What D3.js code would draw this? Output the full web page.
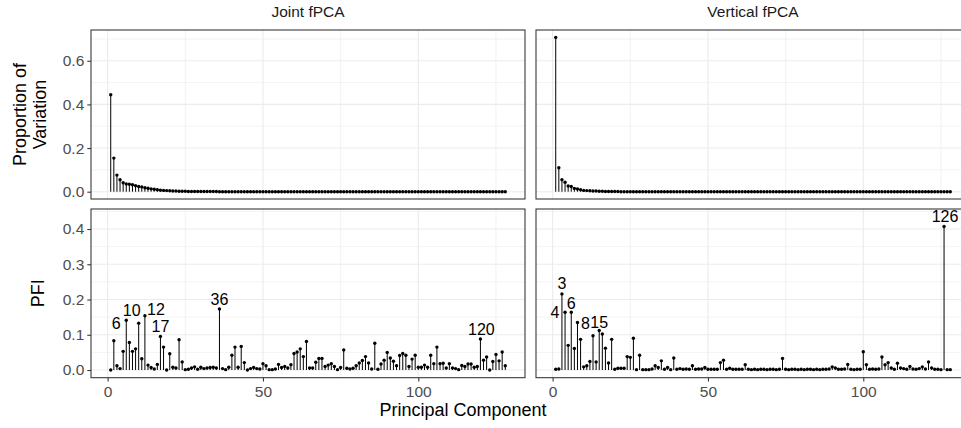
<!DOCTYPE html>
<html lang="en">
<head>
<meta charset="UTF-8">
<title>Joint vs Vertical fPCA</title>
<script src="https://d3js.org/d3.v7.min.js"></script>
<style>
  body { margin: 0; background: #fff; }
  svg { display: block; font-family: "Liberation Sans", Arial, sans-serif; }
</style>
</head>
<body>
<div id="chart"></div>
<script>
// principal component index, 1..128
const components = d3.range(1, 129);
const methods = ["Joint fPCA", "Vertical fPCA"];
const rowTitles = [["Proportion of", "Variation"], ["PFI"]];

const jointPropVar = [
  0.444, 0.154, 0.076, 0.055, 0.041, 0.035, 0.034, 0.032, 0.027, 0.024,
  0.022, 0.018, 0.016, 0.013, 0.011, 0.009, 0.007, 0.006, 0.005, 0.004,
  0.003, 0.003, 0.002, 0.002, 0.002, 0.001, 0.001, 0.001, 0.001, 0.001,
  0.001, 0.001, 0.001, 0.001, 0.001, 0.000, 0.000, 0.000, 0.000, 0.000,
  0.000, 0.000, 0.000, 0.000, 0.000, 0.000, 0.000, 0.000, 0.000, 0.000,
  0.000, 0.000, 0.000, 0.000, 0.000, 0.000, 0.000, 0.000, 0.000, 0.000,
  0.000, 0.000, 0.000, 0.000, 0.000, 0.000, 0.000, 0.000, 0.000, 0.000,
  0.000, 0.000, 0.000, 0.000, 0.000, 0.000, 0.000, 0.000, 0.000, 0.000,
  0.000, 0.000, 0.000, 0.000, 0.000, 0.000, 0.000, 0.000, 0.000, 0.000,
  0.000, 0.000, 0.000, 0.000, 0.000, 0.000, 0.000, 0.000, 0.000, 0.000,
  0.000, 0.000, 0.000, 0.000, 0.000, 0.000, 0.000, 0.000, 0.000, 0.000,
  0.000, 0.000, 0.000, 0.000, 0.000, 0.000, 0.000, 0.000, 0.000, 0.000,
  0.000, 0.000, 0.000, 0.000, 0.000, 0.000, 0.000, 0.000
];

const verticalPropVar = [
  0.707, 0.110, 0.055, 0.043, 0.026, 0.024, 0.015, 0.012, 0.009, 0.006,
  0.005, 0.004, 0.003, 0.003, 0.002, 0.002, 0.001, 0.001, 0.001, 0.001,
  0.001, 0.000, 0.000, 0.000, 0.000, 0.000, 0.000, 0.000, 0.000, 0.000,
  0.000, 0.000, 0.000, 0.000, 0.000, 0.000, 0.000, 0.000, 0.000, 0.000,
  0.000, 0.000, 0.000, 0.000, 0.000, 0.000, 0.000, 0.000, 0.000, 0.000,
  0.000, 0.000, 0.000, 0.000, 0.000, 0.000, 0.000, 0.000, 0.000, 0.000,
  0.000, 0.000, 0.000, 0.000, 0.000, 0.000, 0.000, 0.000, 0.000, 0.000,
  0.000, 0.000, 0.000, 0.000, 0.000, 0.000, 0.000, 0.000, 0.000, 0.000,
  0.000, 0.000, 0.000, 0.000, 0.000, 0.000, 0.000, 0.000, 0.000, 0.000,
  0.000, 0.000, 0.000, 0.000, 0.000, 0.000, 0.000, 0.000, 0.000, 0.000,
  0.000, 0.000, 0.000, 0.000, 0.000, 0.000, 0.000, 0.000, 0.000, 0.000,
  0.000, 0.000, 0.000, 0.000, 0.000, 0.000, 0.000, 0.000, 0.000, 0.000,
  0.000, 0.000, 0.000, 0.000, 0.000, 0.000, 0.000, 0.000
];

const jointPFI = [
  0.000, 0.083, 0.012, 0.004, 0.053, 0.141, 0.078, 0.053, 0.060, 0.133,
  0.032, 0.154, 0.014, 0.007, 0.003, 0.016, 0.095, 0.065, 0.000, 0.046,
  0.008, 0.006, 0.086, 0.023, 0.001, 0.002, 0.006, 0.009, 0.002, 0.008,
  0.004, 0.006, 0.007, 0.008, 0.006, 0.173, 0.004, 0.001, 0.008, 0.042,
  0.065, 0.008, 0.067, 0.021, 0.000, 0.004, 0.007, 0.004, 0.003, 0.018,
  0.012, 0.001, 0.001, 0.003, 0.016, 0.007, 0.010, 0.006, 0.015, 0.047,
  0.051, 0.060, 0.038, 0.081, 0.006, 0.006, 0.022, 0.033, 0.033, 0.010,
  0.014, 0.018, 0.010, 0.001, 0.007, 0.057, 0.005, 0.003, 0.005, 0.012,
  0.020, 0.027, 0.038, 0.020, 0.003, 0.076, 0.002, 0.017, 0.028, 0.050,
  0.034, 0.025, 0.012, 0.041, 0.047, 0.042, 0.010, 0.031, 0.042, 0.008,
  0.008, 0.014, 0.008, 0.042, 0.018, 0.065, 0.018, 0.019, 0.006, 0.018,
  0.006, 0.004, 0.001, 0.013, 0.010, 0.017, 0.017, 0.008, 0.010, 0.088,
  0.028, 0.037, 0.000, 0.024, 0.044, 0.026, 0.051, 0.012
];

const verticalPFI = [
  0.002, 0.003, 0.216, 0.164, 0.070, 0.164, 0.061, 0.135, 0.087, 0.009,
  0.012, 0.024, 0.097, 0.023, 0.112, 0.102, 0.062, 0.020, 0.087, 0.002,
  0.005, 0.005, 0.005, 0.038, 0.036, 0.090, 0.001, 0.042, 0.001, 0.001,
  0.001, 0.003, 0.012, 0.007, 0.026, 0.002, 0.007, 0.001, 0.034, 0.002,
  0.004, 0.002, 0.003, 0.002, 0.012, 0.002, 0.003, 0.003, 0.007, 0.002,
  0.002, 0.002, 0.002, 0.021, 0.028, 0.002, 0.005, 0.002, 0.002, 0.002,
  0.002, 0.015, 0.002, 0.001, 0.002, 0.001, 0.002, 0.002, 0.001, 0.002,
  0.002, 0.001, 0.002, 0.033, 0.002, 0.001, 0.002, 0.002, 0.001, 0.002,
  0.001, 0.002, 0.002, 0.001, 0.002, 0.001, 0.002, 0.002, 0.003, 0.009,
  0.006, 0.002, 0.002, 0.003, 0.016, 0.002, 0.001, 0.002, 0.002, 0.052,
  0.015, 0.002, 0.003, 0.002, 0.003, 0.037, 0.015, 0.021, 0.006, 0.002,
  0.019, 0.006, 0.004, 0.002, 0.010, 0.003, 0.002, 0.004, 0.009, 0.003,
  0.023, 0.006, 0.002, 0.002, 0.001, 0.407, 0.001, 0.001
];

const jointLabelled = [6, 10, 12, 17, 36, 120];
const verticalLabelled = [3, 4, 6, 8, 15, 126];

const xTicks = [0, 50, 100];
const xMinor = [25, 75, 125];
const propTicks = [0, 0.2, 0.4, 0.6];
const propMinor = [0.1, 0.3, 0.5, 0.7];
const pfiTicks = [0, 0.1, 0.2, 0.3, 0.4];
const pfiMinor = [0.05, 0.15, 0.25, 0.35, 0.45];

// label placement relative to the point (px), like a repel layout
const labelNudge = {
  "Joint fPCA": {6: [-10, 3], 10: [-7, -13], 12: [11, -6], 17: [0, -10], 36: [0, -10], 120: [1, -9]},
  "Vertical fPCA": {3: [0, -10], 4: [-10, 0], 6: [0, -9], 8: [8, 1], 15: [0, -8], 126: [1, -10]}
};

const W = 961, H = 428;
const colX = [[91, 525], [536, 970]];
const rowY = [[30, 199], [209, 377.7]];
const xDomain = [-5.35, 134.35];
const tickFont = 15.5;
const rows = [
  {domain: [-0.0335, 0.741], ticks: propTicks, minor: propMinor},
  {domain: [-0.0218, 0.4568], ticks: pfiTicks, minor: pfiMinor}
];
const panelData = [
  [jointPropVar, verticalPropVar],
  [jointPFI, verticalPFI]
];
const labelled = [[[], []], [jointLabelled, verticalLabelled]];

const svg = d3.select("#chart").append("svg")
  .attr("width", W)
  .attr("height", H);

const xScales = colX.map(r => d3.scaleLinear().domain(xDomain).range(r));
const yScales = rows.map((r, i) => d3.scaleLinear().domain(r.domain).range([rowY[i][1], rowY[i][0]]));

rows.forEach((row, ri) => {
  methods.forEach((method, ci) => {
    const x = xScales[ci], y = yScales[ri];
    const g = svg.append("g");
    const [x0, x1] = colX[ci], [y0, y1] = rowY[ri];

    g.append("rect").attr("x", x0).attr("y", y0)
      .attr("width", x1 - x0).attr("height", y1 - y0).attr("fill", "#fff");

    // grid
    g.selectAll(".vminor").data(xMinor).join("line")
      .attr("x1", d => x(d)).attr("x2", d => x(d)).attr("y1", y0).attr("y2", y1)
      .attr("stroke", "#EBEBEB").attr("stroke-width", 0.6);
    g.selectAll(".hminor").data(row.minor).join("line")
      .attr("x1", x0).attr("x2", x1).attr("y1", d => y(d)).attr("y2", d => y(d))
      .attr("stroke", "#EBEBEB").attr("stroke-width", 0.6);
    g.selectAll(".vmajor").data(xTicks).join("line")
      .attr("x1", d => x(d)).attr("x2", d => x(d)).attr("y1", y0).attr("y2", y1)
      .attr("stroke", "#EBEBEB").attr("stroke-width", 1.1);
    g.selectAll(".hmajor").data(row.ticks).join("line")
      .attr("x1", x0).attr("x2", x1).attr("y1", d => y(d)).attr("y2", d => y(d))
      .attr("stroke", "#EBEBEB").attr("stroke-width", 1.1);

    const pts = panelData[ri][ci].map((v, i) => ({k: components[i], v}));

    g.append("g").selectAll("line").data(pts).join("line")
      .attr("x1", d => x(d.k)).attr("x2", d => x(d.k))
      .attr("y1", y(0)).attr("y2", d => y(d.v))
      .attr("stroke", "#000").attr("stroke-width", 1);

    g.append("g").selectAll("circle").data(pts).join("circle")
      .attr("cx", d => x(d.k)).attr("cy", d => y(d.v)).attr("r", 1.7)
      .attr("fill", "#000");

    const labs = pts.filter(d => labelled[ri][ci].includes(d.k));
    g.append("g").selectAll("text").data(labs).join("text")
      .attr("x", d => x(d.k) + labelNudge[method][d.k][0])
      .attr("y", d => y(d.v) + labelNudge[method][d.k][1])
      .attr("text-anchor", "middle")
      .attr("dominant-baseline", "central")
      .attr("font-size", 16)
      .attr("fill", "#000")
      .text(d => d.k);

    g.append("rect").attr("x", x0).attr("y", y0)
      .attr("width", x1 - x0).attr("height", y1 - y0)
      .attr("fill", "none").attr("stroke", "#333").attr("stroke-width", 1.07);

    // y axis on the left column
    if (ci === 0) {
      const ax = svg.append("g")
        .attr("transform", `translate(${x0},0)`)
        .call(d3.axisLeft(y).tickValues(row.ticks).tickSize(3.7).tickPadding(3).tickFormat(d3.format(".1f")));
      ax.select(".domain").remove();
      ax.selectAll("line").attr("stroke", "#333").attr("stroke-width", 1.07);
      ax.selectAll("text").attr("fill", "#4D4D4D").attr("font-size", tickFont)
        .attr("font-family", "Liberation Sans, Arial, sans-serif");
    }
    // x axis on the bottom row
    if (ri === rows.length - 1) {
      const ax = svg.append("g")
        .attr("transform", `translate(0,${y1})`)
        .call(d3.axisBottom(x).tickValues(xTicks).tickSize(3.7).tickPadding(5));
      ax.select(".domain").remove();
      ax.selectAll("line").attr("stroke", "#333").attr("stroke-width", 1.07);
      ax.selectAll("text").attr("fill", "#4D4D4D").attr("font-size", tickFont)
        .attr("font-family", "Liberation Sans, Arial, sans-serif");
    }
  });
});

// strip labels
methods.forEach((m, ci) => {
  svg.append("text")
    .attr("x", (colX[ci][0] + colX[ci][1]) / 2)
    .attr("y", 11)
    .attr("text-anchor", "middle")
    .attr("dominant-baseline", "central")
    .attr("font-size", tickFont)
    .attr("fill", "#1A1A1A")
    .text(m);
});

// row titles
rowTitles.forEach((lines, ri) => {
  const cy = (rowY[ri][0] + rowY[ri][1]) / 2;
  const t = svg.append("text")
    .attr("transform", `translate(${lines.length > 1 ? 31 : 38},${cy}) rotate(-90)`)
    .attr("text-anchor", "middle")
    .attr("font-size", 18)
    .attr("fill", "#000");
  lines.forEach((s, i) => {
    t.append("tspan")
      .attr("x", 0)
      .attr("dy", i === 0 ? (lines.length > 1 ? "-0.3em" : "0.35em") : "1.15em")
      .text(s);
  });
});

svg.append("text")
  .attr("x", 463)
  .attr("y", 416)
  .attr("text-anchor", "middle")
  .attr("font-size", 18)
  .attr("fill", "#000")
  .text("Principal Component");
</script>
</body>
</html>
